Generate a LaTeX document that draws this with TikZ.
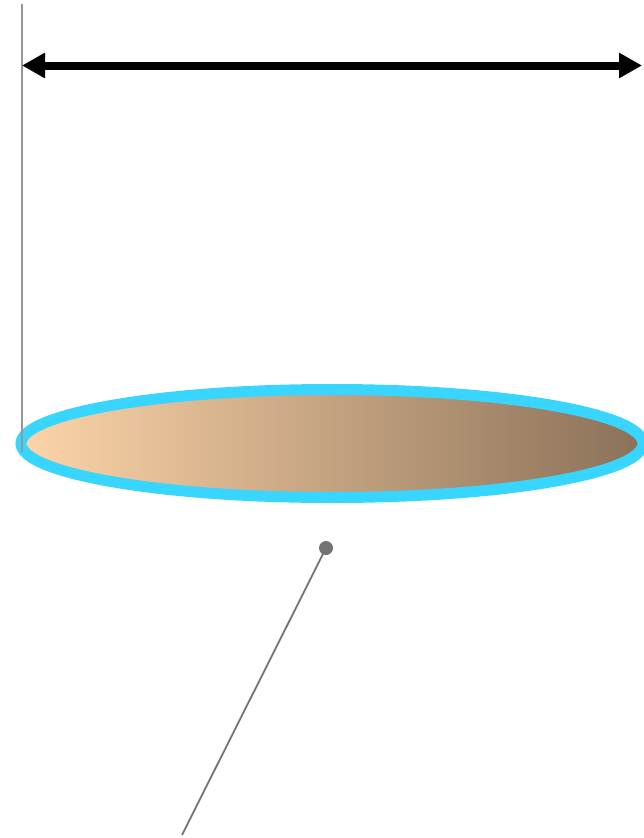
\documentclass[tikz,border=0pt]{standalone}
\usetikzlibrary{arrows.meta}
\definecolor{rimcyan}{RGB}{56,214,255}
\definecolor{peach}{RGB}{253,212,168}
\definecolor{brownish}{RGB}{138,113,89}
\definecolor{guide}{RGB}{150,150,150}
\definecolor{pin}{RGB}{115,115,115}
\tikzset{
  guideline/.style={draw=guide, line width=1.3pt},
  dimarrow/.style={draw=black, line width=8pt, {Triangle[length=23pt,width=24pt]}-{Triangle[length=23pt,width=24pt]}},
  rim/.style={draw=rimcyan, line width=11pt},
  pinline/.style={draw=pin, line width=1.8pt},
}
\begin{document}
\begin{tikzpicture}[x=1pt,y=-1pt]
\useasboundingbox (0,0) rectangle (643,838);
\coordinate (ec) at (332,443.5);
\shade[left color=peach, right color=brownish] (ec) ellipse [x radius=311, y radius=54];
\draw[rim] (ec) ellipse [x radius=311, y radius=54];
\coordinate (vtop) at (22,4);
\coordinate (vbot) at (22,452);
\draw[guideline] (vtop) -- (vbot);
\coordinate (aL) at (22,65.5);
\coordinate (aR) at (642,65.5);
\draw[dimarrow] (aL) -- (aR);
\node[circle, fill=pin, inner sep=0pt, minimum size=14pt] (dot) at (326,548) {};
\coordinate (pend) at (182,835);
\draw[pinline] (dot.center) -- (pend);
\end{tikzpicture}
\end{document}
